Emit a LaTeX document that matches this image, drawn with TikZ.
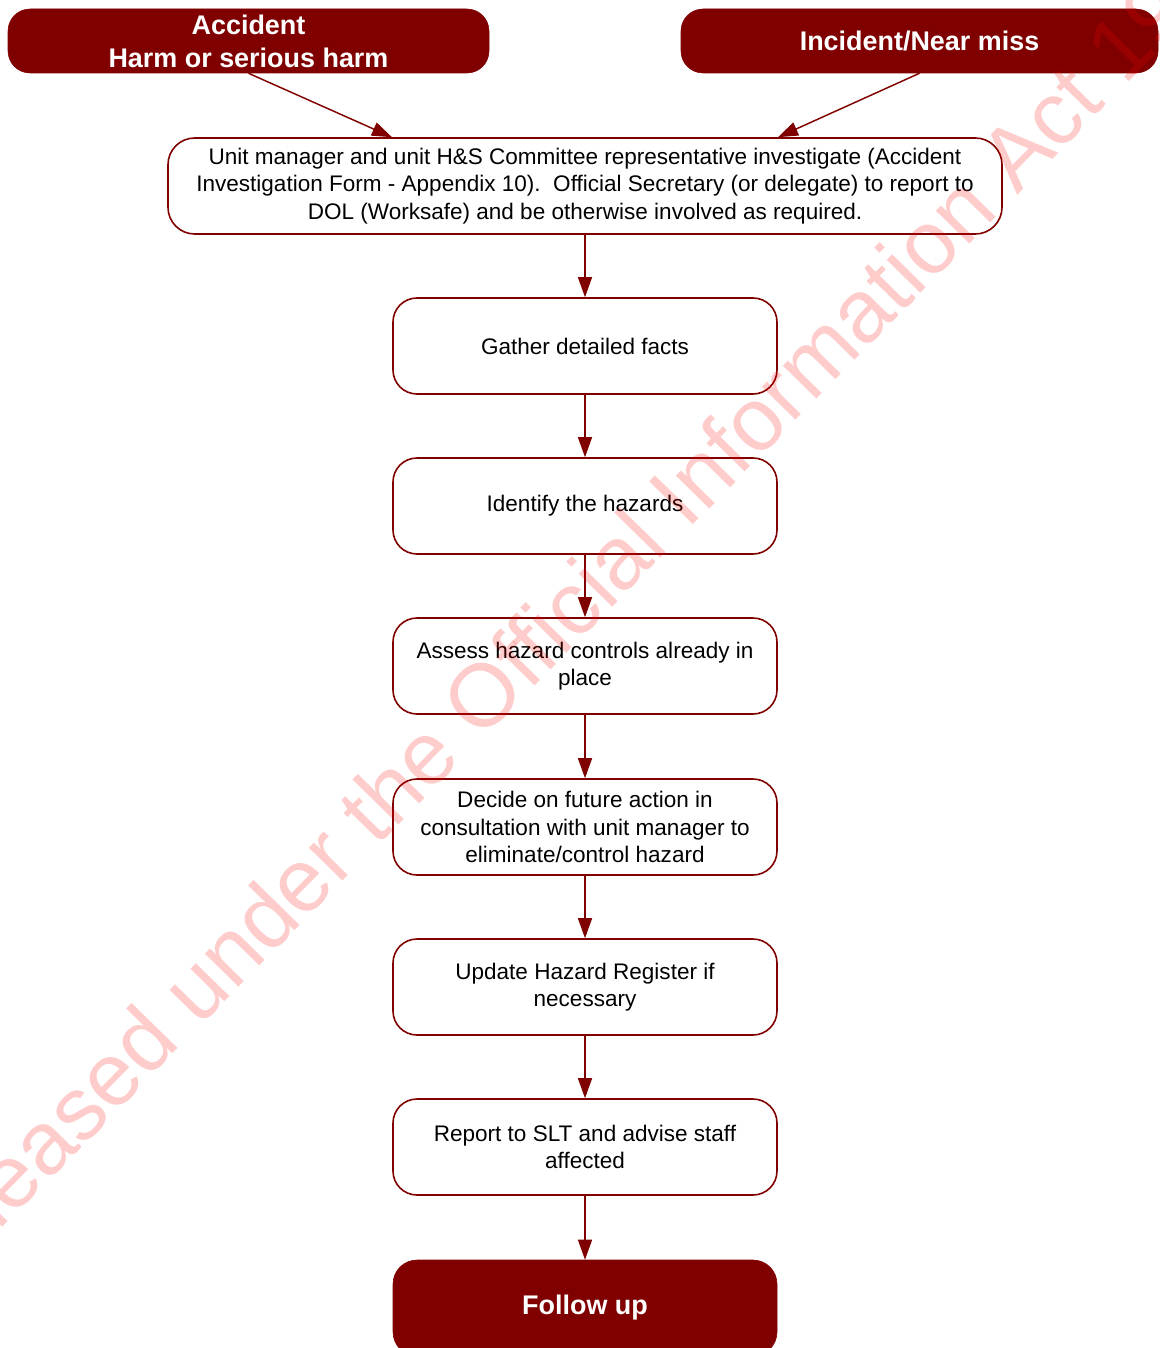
\documentclass[tikz,border=0pt]{standalone}
\usepackage{fontspec}
\setmainfont{Liberation Sans}
\usetikzlibrary{arrows.meta}
\definecolor{deepred}{HTML}{800000}

\begin{document}
\begin{tikzpicture}[x=0.75pt,y=-0.75pt,
  darkbox/.style={fill=deepred, draw=deepred, text=white,
    font=\fontsize{20.2}{24.75}\selectfont\bfseries,
    rounded corners=16.5pt, align=center, inner sep=0pt},
  stepbox/.style={draw=deepred, line width=1.2pt, fill=white,
    font=\fontsize{16.9}{20.4}\selectfont, rounded corners=18pt,
    align=center, minimum width=288pt, minimum height=72pt, inner sep=0pt},
  flow/.style={draw=deepred, line width=1.1pt,
    -{Triangle[length=15pt,width=10.5pt]}}]

\useasboundingbox (0,0) rectangle (1159,1348);
\begin{scope}
\clip (0,0) rectangle (1159,1348);

% starting events
\node[darkbox, minimum width=360.75pt, minimum height=48pt] (acc) at (248.5,41)
  {Accident\\Harm or serious harm};
\node[darkbox, minimum width=357.75pt, minimum height=48pt] (inc) at (919.5,41)
  {Incident/Near miss};

% investigation
\node[stepbox, minimum width=625.5pt, rounded corners=20pt] (top) at (585,186)
  {Unit manager and unit H\&S Committee representative investigate (Accident\\
   Investigation Form - Appendix 10).\ \ Official Secretary (or delegate) to report to\\
   DOL (Worksafe) and be otherwise involved as required.};

% steps
\node[stepbox] (gather)   at (585,346)  {Gather detailed facts};
\node[stepbox] (identify) at (585,506)  {Identify the hazards};
\node[stepbox] (assess)   at (585,666)  {Assess hazard controls already in\\place};
\node[stepbox] (decide)   at (585,827)  {Decide on future action in\\consultation with unit manager to\\eliminate/control hazard};
\node[stepbox] (update)   at (585,987)  {Update Hazard Register if\\necessary};
\node[stepbox] (report)   at (585,1147) {Report to SLT and advise staff\\affected};
\node[darkbox, minimum width=288pt, minimum height=72pt, rounded corners=18pt] (follow) at (585,1308) {Follow up};

% connectors
\draw[flow] (acc.south) -- ([xshift=-144.75pt]top.north);
\draw[flow] (inc.south) -- ([xshift=144.75pt]top.north);
\foreach \a/\b in {top/gather, gather/identify, identify/assess, assess/decide,
                   decide/update, update/report, report/follow}
  \draw[flow] (\a) -- (\b);

% release stamp
\node[anchor=base west, inner sep=0pt, rotate=45.5, text=red, text opacity=0.2,
      font=\fontsize{66.75}{80}\selectfont] (stamp) at (-81,1313)
  {Released under the Official Information Act 1982};
\end{scope}
\end{tikzpicture}
\end{document}
